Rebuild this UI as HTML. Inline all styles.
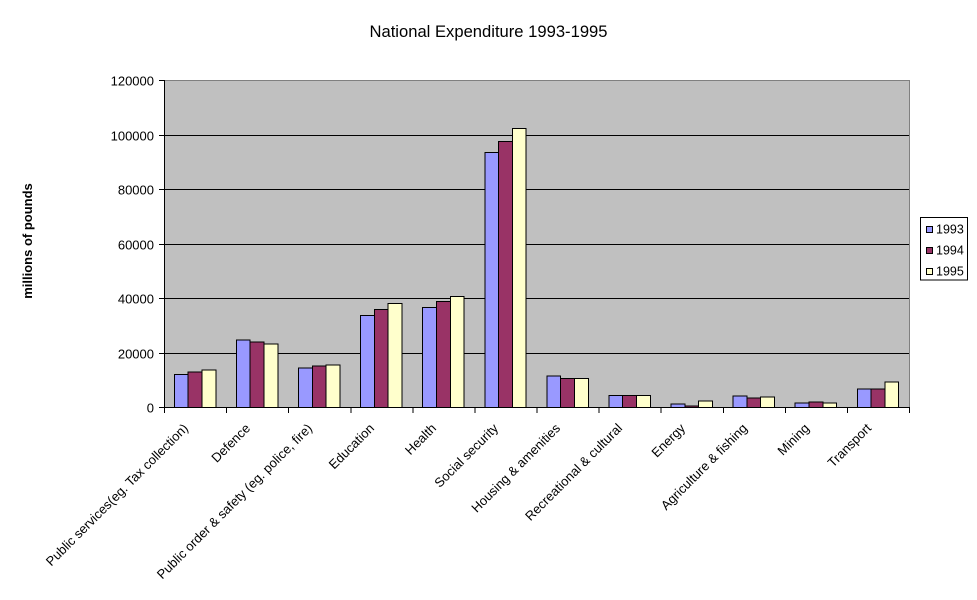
<!DOCTYPE html>
<html>
<head>
<meta charset="utf-8">
<style>
  html, body { margin:0; padding:0; background:#ffffff; }
  body { width:977px; height:600px; overflow:hidden; }
  svg { display:block; }
  text { font-family: "Liberation Sans", Arial, sans-serif; fill:#000; }
</style>
</head>
<body>
<svg width="977" height="600" viewBox="0 0 977 600" xmlns="http://www.w3.org/2000/svg">
  <rect x="0" y="0" width="977" height="600" fill="#ffffff"/>
  <text x="488.5" y="37" font-size="16.6" text-anchor="middle">National Expenditure 1993-1995</text>

  <g shape-rendering="crispEdges">
    <!-- plot area -->
    <rect x="164" y="80" width="745" height="327" fill="#c0c0c0"/>
    <line x1="164" y1="80.5" x2="909.5" y2="80.5" stroke="#808080" stroke-width="1"/>
    <line x1="909.5" y1="80" x2="909.5" y2="407.5" stroke="#808080" stroke-width="1"/>
    <!-- gridlines -->
    <g stroke="#000" stroke-width="1">
      <line x1="164" y1="135.5" x2="909" y2="135.5"/>
      <line x1="164" y1="189.5" x2="909" y2="189.5"/>
      <line x1="164" y1="244.5" x2="909" y2="244.5"/>
      <line x1="164" y1="298.5" x2="909" y2="298.5"/>
      <line x1="164" y1="353.5" x2="909" y2="353.5"/>
    </g>

    <!-- bars -->
    <g stroke="#000" stroke-width="1">
      <!-- Public services -->
      <rect x="174.35" y="374.25" width="13.8" height="33.25" fill="#9999ff"/>
      <rect x="188.15" y="372.21" width="13.8" height="35.29" fill="#993366"/>
      <rect x="201.95" y="370.17" width="13.8" height="37.33" fill="#ffffcc"/>
      <!-- Defence -->
      <rect x="236.43" y="340.19" width="13.8" height="67.31" fill="#9999ff"/>
      <rect x="250.23" y="342.18" width="13.8" height="65.32" fill="#993366"/>
      <rect x="264.03" y="344.17" width="13.8" height="63.33" fill="#ffffcc"/>
      <!-- Public order -->
      <rect x="298.52" y="368.18" width="13.8" height="39.32" fill="#9999ff"/>
      <rect x="312.32" y="366.19" width="13.8" height="41.31" fill="#993366"/>
      <rect x="326.12" y="365.18" width="13.8" height="42.32" fill="#ffffcc"/>
      <!-- Education -->
      <rect x="360.60" y="315.5" width="13.8" height="92.0" fill="#9999ff"/>
      <rect x="374.40" y="309.51" width="13.8" height="97.99" fill="#993366"/>
      <rect x="388.20" y="303.51" width="13.8" height="103.99" fill="#ffffcc"/>
      <!-- Health -->
      <rect x="422.68" y="307.49" width="13.8" height="100.01" fill="#9999ff"/>
      <rect x="436.48" y="301.5" width="13.8" height="106.0" fill="#993366"/>
      <rect x="450.28" y="296.51" width="13.8" height="110.99" fill="#ffffcc"/>
      <!-- Social security -->
      <rect x="484.77" y="152.49" width="13.8" height="255.01" fill="#9999ff"/>
      <rect x="498.57" y="141.51" width="13.8" height="265.99" fill="#993366"/>
      <rect x="512.37" y="128.49" width="13.8" height="279.01" fill="#ffffcc"/>
      <!-- Housing -->
      <rect x="546.85" y="376.19" width="13.8" height="31.31" fill="#9999ff"/>
      <rect x="560.65" y="378.51" width="13.8" height="28.99" fill="#993366"/>
      <rect x="574.45" y="378.51" width="13.8" height="28.99" fill="#ffffcc"/>
      <!-- Recreational -->
      <rect x="608.93" y="395.51" width="13.8" height="11.99" fill="#9999ff"/>
      <rect x="622.73" y="395.51" width="13.8" height="11.99" fill="#993366"/>
      <rect x="636.53" y="395.51" width="13.8" height="11.99" fill="#ffffcc"/>
      <!-- Energy -->
      <rect x="671.01" y="404.23" width="13.8" height="3.27" fill="#9999ff"/>
      <rect x="684.81" y="406.19" width="13.8" height="1.31" fill="#993366"/>
      <rect x="698.61" y="401.23" width="13.8" height="6.27" fill="#ffffcc"/>
      <!-- Agriculture -->
      <rect x="733.10" y="396.19" width="13.8" height="11.31" fill="#9999ff"/>
      <rect x="746.90" y="398.23" width="13.8" height="9.27" fill="#993366"/>
      <rect x="760.70" y="397.2" width="13.8" height="10.3" fill="#ffffcc"/>
      <!-- Mining -->
      <rect x="795.18" y="403.19" width="13.8" height="4.31" fill="#9999ff"/>
      <rect x="808.98" y="402.19" width="13.8" height="5.31" fill="#993366"/>
      <rect x="822.78" y="403.19" width="13.8" height="4.31" fill="#ffffcc"/>
      <!-- Transport -->
      <rect x="857.26" y="389.24" width="13.8" height="18.26" fill="#9999ff"/>
      <rect x="871.06" y="389.24" width="13.8" height="18.26" fill="#993366"/>
      <rect x="884.86" y="382.21" width="13.8" height="25.29" fill="#ffffcc"/>
    </g>

    <!-- axes -->
    <g stroke="#000" stroke-width="1">
      <line x1="164.5" y1="80" x2="164.5" y2="408"/>
      <line x1="164" y1="407.5" x2="910" y2="407.5"/>
      <!-- y ticks -->
      <line x1="159" y1="80.5" x2="164" y2="80.5"/>
      <line x1="159" y1="135.5" x2="164" y2="135.5"/>
      <line x1="159" y1="189.5" x2="164" y2="189.5"/>
      <line x1="159" y1="244.5" x2="164" y2="244.5"/>
      <line x1="159" y1="298.5" x2="164" y2="298.5"/>
      <line x1="159" y1="353.5" x2="164" y2="353.5"/>
      <line x1="159" y1="407.5" x2="164" y2="407.5"/>
      <!-- x ticks -->
      <line x1="164.5" y1="407" x2="164.5" y2="413"/>
      <line x1="226.58" y1="407" x2="226.58" y2="413"/>
      <line x1="288.67" y1="407" x2="288.67" y2="413"/>
      <line x1="350.75" y1="407" x2="350.75" y2="413"/>
      <line x1="412.83" y1="407" x2="412.83" y2="413"/>
      <line x1="474.92" y1="407" x2="474.92" y2="413"/>
      <line x1="537.0" y1="407" x2="537.0" y2="413"/>
      <line x1="599.08" y1="407" x2="599.08" y2="413"/>
      <line x1="661.17" y1="407" x2="661.17" y2="413"/>
      <line x1="723.25" y1="407" x2="723.25" y2="413"/>
      <line x1="785.33" y1="407" x2="785.33" y2="413"/>
      <line x1="847.42" y1="407" x2="847.42" y2="413"/>
      <line x1="909.5" y1="407" x2="909.5" y2="413"/>
    </g>

    <!-- legend -->
    <rect x="920.5" y="217.5" width="47" height="62.5" fill="#ffffff" stroke="#000" stroke-width="1"/>
    <rect x="926.5" y="226.5" width="6" height="6" fill="#9999ff" stroke="#000" stroke-width="1"/>
    <rect x="926.5" y="247.5" width="6" height="6" fill="#993366" stroke="#000" stroke-width="1"/>
    <rect x="926.5" y="268.5" width="6" height="6" fill="#ffffcc" stroke="#000" stroke-width="1"/>
  </g>

  <g font-size="12.5">
    <text x="936" y="233.5">1993</text>
    <text x="936" y="254.5">1994</text>
    <text x="936" y="275.5">1995</text>
  </g>

  <!-- y tick labels -->
  <g font-size="13" text-anchor="end">
    <text x="154" y="85.5">120000</text>
    <text x="154" y="140.5">100000</text>
    <text x="154" y="194.5">80000</text>
    <text x="154" y="249.5">60000</text>
    <text x="154" y="303.5">40000</text>
    <text x="154" y="358.5">20000</text>
    <text x="154" y="412.5">0</text>
  </g>

  <!-- y axis title -->
  <text x="32" y="241" font-size="13" font-weight="bold" text-anchor="middle" transform="rotate(-90 32 241)">millions of pounds</text>

  <!-- category labels -->
  <g font-size="13" text-anchor="end">
    <text x="189" y="429" transform="rotate(-45 189 429)">Public services(eg. Tax collection)</text>
    <text x="251" y="429" transform="rotate(-45 251 429)">Defence</text>
    <text x="313" y="429" transform="rotate(-45 313 429)">Public order &amp; safety (eg. police, fire)</text>
    <text x="375" y="429" transform="rotate(-45 375 429)">Education</text>
    <text x="437" y="429" transform="rotate(-45 437 429)">Health</text>
    <text x="499" y="429" transform="rotate(-45 499 429)">Social security</text>
    <text x="561" y="429" transform="rotate(-45 561 429)">Housing &amp; amenities</text>
    <text x="623" y="429" transform="rotate(-45 623 429)">Recreational &amp; cultural</text>
    <text x="686" y="429" transform="rotate(-45 686 429)">Energy</text>
    <text x="748" y="429" transform="rotate(-45 748 429)">Agriculture &amp; fishing</text>
    <text x="810" y="429" transform="rotate(-45 810 429)">Mining</text>
    <text x="872" y="429" transform="rotate(-45 872 429)">Transport</text>
  </g>
</svg>
</body>
</html>
